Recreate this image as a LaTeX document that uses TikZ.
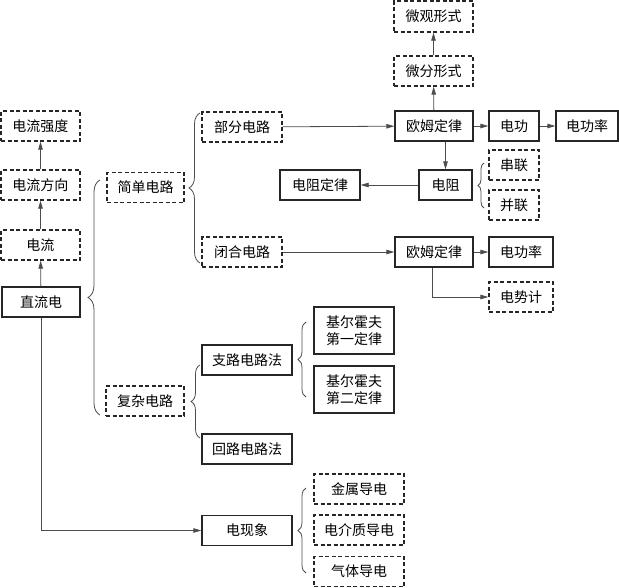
\documentclass[tikz,border=0pt]{standalone}
\usepackage{fontspec}
\setmainfont{Noto Sans CJK SC}
\usetikzlibrary{arrows.meta,positioning,calc,decorations.pathreplacing}
\tikzstyle{l1}=[line width=0.8pt, draw=black!70]
\tikzstyle{box}=[draw=black!85, line width=1.3pt, minimum height=30pt, inner sep=2pt, font=\fontsize{14}{17}\selectfont, align=center]
\tikzstyle{dbox}=[box, dash pattern=on 4pt off 2.5pt]
\tikzstyle{arr}=[l1, -{Triangle[length=8pt,width=4.5pt]}]
\tikzset{brc/.style={l1, decorate, decoration={brace, amplitude=#1}}, brc/.default=10pt}

\begin{document}
\begin{tikzpicture}[x=1pt, y=-1pt]
    \useasboundingbox (0,0) rectangle (619,587);

    % left column
    \node (qd) [dbox, minimum width=79pt] at (40.5,126) {电流强度};
    \node (fx) [dbox, minimum width=79pt] at (40.5,185) {电流方向};
    \node (dl) [dbox, minimum width=79pt] at (40.5,245) {电流};
    \node (zl) [box, minimum width=78pt] at (41,302) {直流电};

    % simple circuits
    \node (jd) [dbox, minimum width=77pt] at (145.5,187.5) {简单电路};
    \node (bf) [dbox, minimum width=80pt] at (242,127) {部分电路};
    \node (bh) [dbox, minimum width=80pt] at (242,252) {闭合电路};
    \node (om1) [box, minimum width=78pt] at (434,126) {欧姆定律};
    \node (wf) [dbox, minimum width=79pt] at (433.5,71) {微分形式};
    \node (wg) [dbox, minimum width=79pt, minimum height=31pt] at (433.5,16.5) {微观形式};
    \node (dg) [box, minimum width=50pt] at (514,126) {电功};
    \node (gl1) [box, minimum width=62pt] at (587,126) {电功率};
    \node (dz) [box, minimum width=53pt] at (445.5,185) {电阻};
    \node (dzdl) [box, minimum width=80pt] at (320,185) {电阻定律};
    \node (cl) [dbox, minimum width=50pt] at (514,165) {串联};
    \node (bl) [dbox, minimum width=50pt] at (514,205) {并联};
    \node (om2) [box, minimum width=78pt] at (434,252) {欧姆定律};
    \node (gl2) [box, minimum width=64pt] at (521,252) {电功率};
    \node (dsj) [dbox, minimum width=64pt] at (521,297) {电势计};

    % complex circuits
    \node (fz) [dbox, minimum width=78pt] at (145,401) {复杂电路};
    \node (zlf) [box, minimum width=90pt] at (247,360) {支路电路法};
    \node (hlf) [box, minimum width=90pt] at (247,449) {回路电路法};
    \node (je1) [box, minimum width=80pt, minimum height=47pt] at (354,330.5) {基尔霍夫\\第一定律};
    \node (je2) [box, minimum width=80pt, minimum height=47pt] at (354,389.5) {基尔霍夫\\第二定律};

    % phenomena
    \node (dxx) [box, minimum width=90pt] at (247,530.5) {电现象};
    \node (js) [dbox, minimum width=90pt] at (359,489) {金属导电};
    \node (djz) [dbox, minimum width=90pt] at (359,530) {电介质导电};
    \node (qt) [dbox, minimum width=90pt] at (359,571.5) {气体导电};

    % arrows
    \draw[arr] (zl) -- (dl);
    \draw[arr] (dl) -- (fx);
    \draw[arr] (fx) -- (qd);
    \draw[arr] (bf) -- (om1);
    \draw[arr] (om1) -- (dg);
    \draw[arr] (dg) -- (gl1);
    \draw[arr] (om1) -- (wf);
    \draw[arr] (wf) -- (wg);
    \draw[arr] (dz.north |- om1.south) -- (dz.north);
    \draw[arr] (dz) -- (dzdl);
    \draw[arr] (bh) -- (om2);
    \draw[arr] (om2) -- (gl2);
    \draw[arr] ([xshift=-2pt]om2.south) |- (dsj.west);
    \draw[arr] (zl.south) |- (dxx.west);

    % braces
    \coordinate (b1s) at (100,415); \coordinate (b1e) at (100,180);
    \coordinate (b2s) at (200,263); \coordinate (b2e) at (200,113);
    \coordinate (b3s) at (200,438); \coordinate (b3e) at (200,365);
    \coordinate (b4s) at (484,208); \coordinate (b4e) at (484,163);
    \coordinate (b5s) at (306,397); \coordinate (b5e) at (306,322);
    \coordinate (b6s) at (306,573); \coordinate (b6e) at (306,488);
    \draw[brc=12pt] (b1s) -- (b1e);
    \draw[brc=11pt] (b2s) -- (b2e);
    \draw[brc=9pt] (b3s) -- (b3e);
    \draw[brc=6pt] (b4s) -- (b4e);
    \draw[brc=8pt] (b5s) -- (b5e);
    \draw[brc=8pt] (b6s) -- (b6e);

\end{tikzpicture}
\end{document}
